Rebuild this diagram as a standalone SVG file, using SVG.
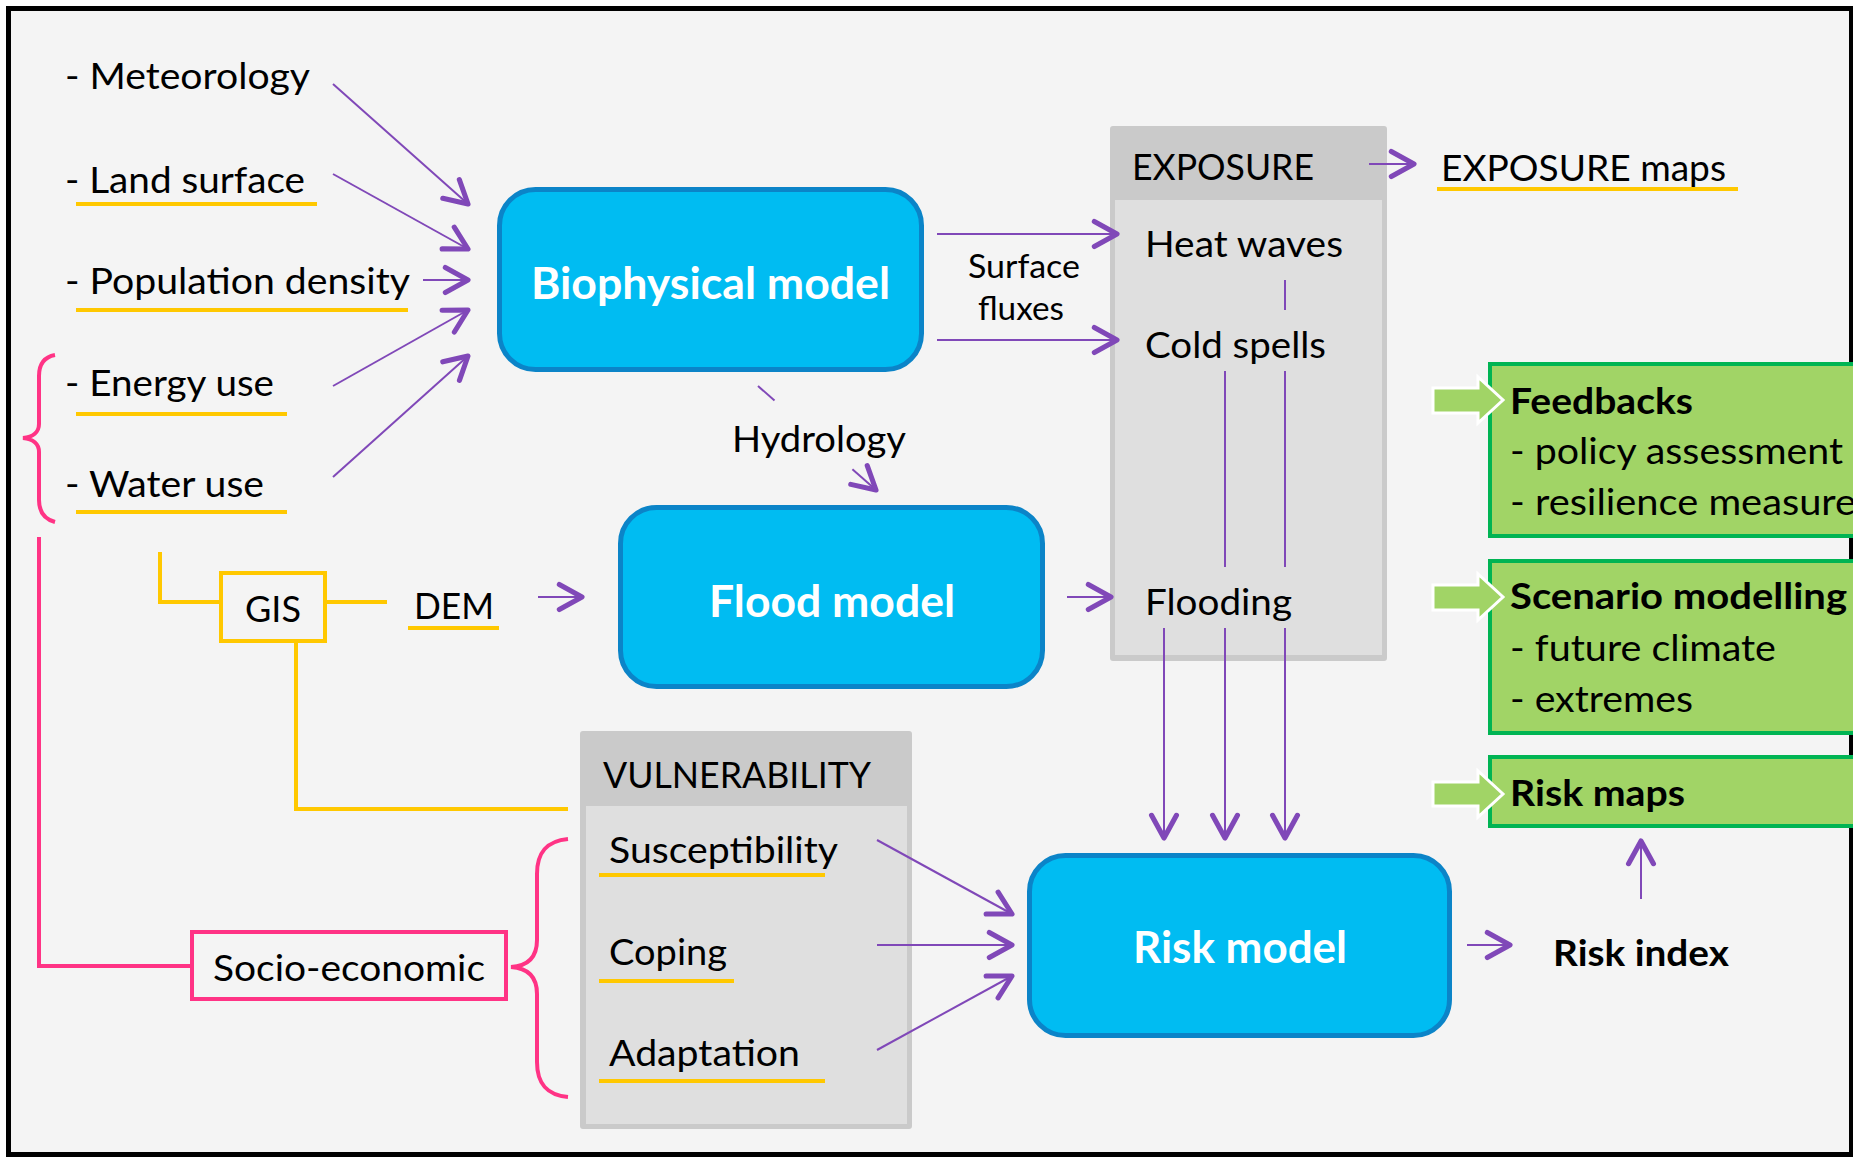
<svg xmlns="http://www.w3.org/2000/svg" width="1853" height="1157" viewBox="0 0 1853 1157">
  <defs>
    <style>
      text { font-family: Lato, "Open Sans", "Liberation Sans", sans-serif; fill: #000; }
      .t { font-size: 37px; }
      .s { font-size: 32px; }
      .g { font-size: 36px; }
      .gb { font-size: 36px; font-weight: bold; }
      .mb { font-size: 43px; font-weight: bold; fill: #fff; }
      .model { fill: #00bcf2; stroke: #0b84c8; stroke-width: 5; }
      .panel-out { fill: #cacaca; }
      .panel-in { fill: #dfdfdf; }
      .green { fill: #a1d466; stroke: #00b453; stroke-width: 4; }
      .garrow { fill: #a1d466; stroke: #ffffff; stroke-width: 3; stroke-linejoin: miter; }
      .conn { stroke: #8048b8; stroke-width: 2; fill: none; }
      .arr { marker-end: url(#head); }
      .ul { stroke: #ffc800; stroke-width: 4; fill: none; }
      .yl { stroke: #ffc800; stroke-width: 4; fill: none; }
      .pk { stroke: #ff3385; stroke-width: 4; fill: none; }
    </style>
    <marker id="head" markerUnits="userSpaceOnUse" markerWidth="34" markerHeight="34" viewBox="-26 -15 30 30" refX="0" refY="0" orient="auto">
      <path d="M-20,-11 L0,0 L-20,11" fill="none" stroke="#8048b8" stroke-width="4.5" stroke-linecap="round" stroke-linejoin="round"/>
    </marker>
  </defs>

  <!-- frame -->
  <rect x="0" y="0" width="1853" height="1157" fill="#ffffff"/>
  <rect x="8.5" y="8.5" width="1843" height="1146" fill="#f4f4f4" stroke="#000" stroke-width="5"/>

  <!-- input list -->
  <g id="inputs">
    <text class="t" x="65" y="89" textLength="245" lengthAdjust="spacingAndGlyphs">- Meteorology</text>
    <text class="t" x="65" y="193" textLength="240" lengthAdjust="spacingAndGlyphs">- Land surface</text>
    <text class="t" x="65" y="294" textLength="345" lengthAdjust="spacingAndGlyphs">- Population density</text>
    <text class="t" x="65" y="396" textLength="209" lengthAdjust="spacingAndGlyphs">- Energy use</text>
    <text class="t" x="65" y="497" textLength="199" lengthAdjust="spacingAndGlyphs">- Water use</text>
    <line class="ul" x1="76" y1="204" x2="317" y2="204"/>
    <line class="ul" x1="76" y1="310" x2="408" y2="310"/>
    <line class="ul" x1="76" y1="414" x2="287" y2="414"/>
    <line class="ul" x1="76" y1="512" x2="287" y2="512"/>
    <path class="pk" d="M55,355 C44,357 39,364 39,376 L39,424 C39,432 33,437 23,438 C33,439 39,444 39,452 L39,500 C39,512 44,519 55,522"/>
  </g>

  <!-- models -->
  <g id="biophysical-model">
    <rect class="model" x="499.5" y="189.5" width="422" height="180" rx="36"/>
    <text class="mb" x="531" y="299" textLength="359" lengthAdjust="spacingAndGlyphs">Biophysical model</text>
  </g>
  <g id="flood-model">
    <rect class="model" x="620.5" y="507.5" width="422" height="179" rx="36"/>
    <text class="mb" x="709" y="617" textLength="246" lengthAdjust="spacingAndGlyphs">Flood model</text>
  </g>
  <g id="risk-model">
    <rect class="model" x="1029.5" y="855.5" width="420" height="180" rx="36"/>
    <text class="mb" x="1133" y="963" textLength="214" lengthAdjust="spacingAndGlyphs">Risk model</text>
  </g>

  <!-- exposure panel -->
  <g id="exposure">
    <rect class="panel-out" x="1110" y="126" width="277" height="535" rx="3"/>
    <rect class="panel-in" x="1115" y="200" width="267" height="455"/>
    <text class="t" x="1132" y="180" textLength="182" lengthAdjust="spacingAndGlyphs">EXPOSURE</text>
    <text class="t" x="1145" y="257" textLength="198" lengthAdjust="spacingAndGlyphs">Heat waves</text>
    <text class="t" x="1145" y="358" textLength="181" lengthAdjust="spacingAndGlyphs">Cold spells</text>
    <text class="t" x="1145" y="615" textLength="147" lengthAdjust="spacingAndGlyphs">Flooding</text>
  </g>

  <g id="exposure-maps">
    <text class="t" x="1441" y="181" textLength="285" lengthAdjust="spacingAndGlyphs">EXPOSURE maps</text>
    <line class="ul" x1="1437" y1="189" x2="1738" y2="189"/>
  </g>

  <!-- vulnerability panel -->
  <g id="vulnerability">
    <rect class="panel-out" x="580" y="731" width="332" height="398" rx="3"/>
    <rect class="panel-in" x="586" y="806" width="321" height="318"/>
    <text class="t" x="603" y="788" textLength="268" lengthAdjust="spacingAndGlyphs">VULNERABILITY</text>
    <text class="t" x="609" y="863" textLength="229" lengthAdjust="spacingAndGlyphs">Susceptibility</text>
    <text class="t" x="609" y="965" textLength="118" lengthAdjust="spacingAndGlyphs">Coping</text>
    <text class="t" x="609" y="1066" textLength="191" lengthAdjust="spacingAndGlyphs">Adaptation</text>
    <line class="ul" x1="599" y1="875" x2="825" y2="875"/>
    <line class="ul" x1="599" y1="981" x2="734" y2="981"/>
    <line class="ul" x1="599" y1="1081" x2="825" y2="1081"/>
  </g>

  <!-- GIS and DEM -->
  <g id="gis">
    <rect x="221" y="573" width="104" height="68" fill="none" stroke="#ffc800" stroke-width="4"/>
    <text class="t" x="245" y="622" textLength="56" lengthAdjust="spacingAndGlyphs">GIS</text>
  </g>
  <g id="dem">
    <text class="t" x="414" y="619" textLength="80" lengthAdjust="spacingAndGlyphs">DEM</text>
    <line class="ul" x1="408" y1="628" x2="499" y2="628"/>
  </g>

  <!-- socio-economic -->
  <g id="socio-economic">
    <rect x="192" y="932" width="314" height="67" fill="none" stroke="#ff3385" stroke-width="4"/>
    <text class="t" x="213" y="981" textLength="272" lengthAdjust="spacingAndGlyphs">Socio-economic</text>
  </g>

  <g id="risk-index">
    <text class="gb" x="1553" y="966" textLength="176" lengthAdjust="spacingAndGlyphs">Risk index</text>
  </g>

  <!-- connectors -->
  <g id="connectors">
    <line class="conn arr" x1="333" y1="84" x2="468" y2="204"/>
    <line class="conn arr" x1="333" y1="174" x2="468" y2="249"/>
    <line class="conn arr" x1="423" y1="280" x2="468" y2="280"/>
    <line class="conn arr" x1="333" y1="386" x2="468" y2="310"/>
    <line class="conn arr" x1="333" y1="477" x2="468" y2="356"/>

    <line class="conn arr" x1="937" y1="234" x2="1117" y2="234"/>
    <line class="conn arr" x1="937" y1="340" x2="1117" y2="340"/>
    <text class="s" x="968" y="278" textLength="112" lengthAdjust="spacingAndGlyphs">Surface</text>
    <text class="s" x="978" y="320" textLength="86" lengthAdjust="spacingAndGlyphs">fluxes</text>

    <line class="conn" x1="758" y1="386" x2="774.5" y2="400.6"/>
    <line class="conn arr" x1="852.4" y1="469.2" x2="876" y2="490"/>
    <text class="t" x="732" y="452" textLength="174" lengthAdjust="spacingAndGlyphs">Hydrology</text>

    <line class="conn arr" x1="538" y1="597" x2="582" y2="597"/>
    <line class="conn arr" x1="1067" y1="597" x2="1111" y2="597"/>
    <line class="conn arr" x1="1369" y1="164" x2="1414" y2="164"/>

    <line class="conn" x1="1285" y1="280" x2="1285" y2="310"/>
    <line class="conn" x1="1225" y1="371" x2="1225" y2="567"/>
    <line class="conn" x1="1285" y1="371" x2="1285" y2="567"/>
    <line class="conn arr" x1="1164" y1="628" x2="1164" y2="838"/>
    <line class="conn arr" x1="1225" y1="628" x2="1225" y2="838"/>
    <line class="conn arr" x1="1285" y1="628" x2="1285" y2="838"/>

    <line class="conn arr" x1="877" y1="840" x2="1012" y2="914"/>
    <line class="conn arr" x1="877" y1="945" x2="1012" y2="945"/>
    <line class="conn arr" x1="877" y1="1050" x2="1012" y2="976"/>

    <line class="conn arr" x1="1467" y1="945" x2="1510" y2="945"/>
    <line class="conn arr" x1="1641" y1="899" x2="1641" y2="841"/>

    <polyline class="yl" points="160,552 160,602 221,602"/>
    <line class="yl" x1="325" y1="602" x2="387" y2="602"/>
    <polyline class="yl" points="296,641 296,809 568,809"/>

    <polyline class="pk" points="39,537 39,966 192,966"/>
    <path class="pk" d="M568,839 C547,841 537,852 537,874 L537,940 C537,958 527,966 511,967 C527,968 537,976 537,994 L537,1062 C537,1084 547,1095 568,1097"/>
  </g>

  <!-- outcome boxes -->
  <g id="feedbacks">
    <rect class="green" x="1490" y="364" width="380" height="172"/>
    <polygon class="garrow" points="1433,388 1478,388 1478,377 1503,400 1478,423 1478,413 1433,413"/>
    <text class="gb" x="1510" y="414" textLength="183" lengthAdjust="spacingAndGlyphs">Feedbacks</text>
    <text class="g" x="1510" y="464" textLength="333" lengthAdjust="spacingAndGlyphs">- policy assessment</text>
    <text class="g" x="1510" y="515" textLength="346" lengthAdjust="spacingAndGlyphs">- resilience measure</text>
  </g>
  <g id="scenario-modelling">
    <rect class="green" x="1490" y="561" width="380" height="172"/>
    <polygon class="garrow" points="1433,585 1478,585 1478,574 1503,597 1478,620 1478,610 1433,610"/>
    <text class="gb" x="1510" y="609" textLength="337" lengthAdjust="spacingAndGlyphs">Scenario modelling</text>
    <text class="g" x="1510" y="661" textLength="266" lengthAdjust="spacingAndGlyphs">- future climate</text>
    <text class="g" x="1510" y="712" textLength="183" lengthAdjust="spacingAndGlyphs">- extremes</text>
  </g>
  <g id="risk-maps">
    <rect class="green" x="1490" y="757" width="380" height="69"/>
    <polygon class="garrow" points="1433,782 1478,782 1478,771 1503,794 1478,817 1478,806 1433,806"/>
    <text class="gb" x="1510" y="806" textLength="175" lengthAdjust="spacingAndGlyphs">Risk maps</text>
  </g>
</svg>
